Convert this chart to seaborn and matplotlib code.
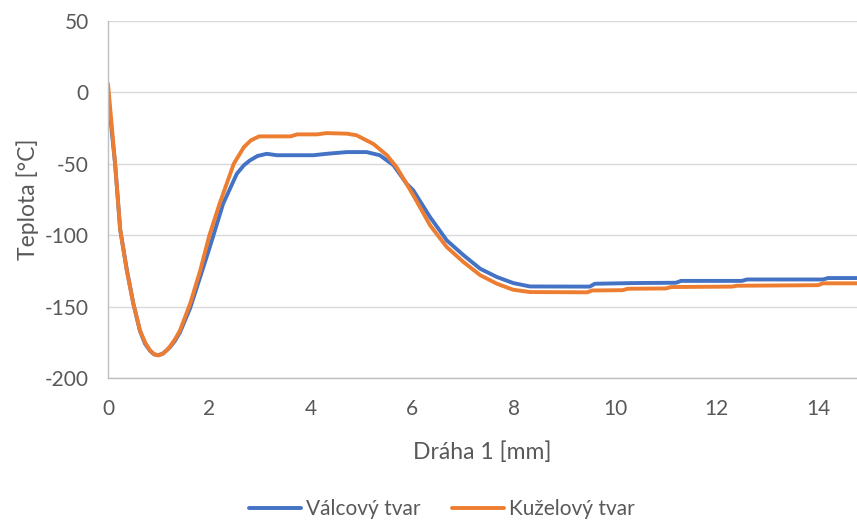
import pandas as pd
import seaborn as sns
import matplotlib.pyplot as plt

# values
valcovy_x = [0, 0.14, 0.24, 0.37, 0.5, 0.63, 0.73, 0.83, 0.91, 0.99, 1.08, 1.16, 1.22, 1.32,
             1.42, 1.62, 1.82, 2.01, 2.27, 2.54, 2.68, 2.8, 2.95, 3.13, 3.33, 4.05, 4.31, 4.71,
             5.1, 5.36, 5.63, 5.89, 6.02, 6.35, 6.68, 7.01, 7.34, 7.67, 7.99, 8.32, 9.5, 9.6,
             10.4, 11.2, 11.3, 12.5, 12.6, 14.1, 14.2, 14.8]
valcovy_y = [-2, -50, -96, -124, -148, -167, -176, -181, -183.5, -184, -183, -180.5, -178.5,
             -174, -168, -151, -129, -108, -78, -57, -51, -47.6, -44.5, -43, -44, -44, -43,
             -41.8, -41.8, -44, -51, -64, -68.6, -87.3, -103.6, -114, -123.5, -129.3, -133.5,
             -135.9, -136, -134, -133.5, -133.3, -132, -132, -131, -131, -130, -130]

kuzelovy_x = [0, 0.14, 0.24, 0.37, 0.5, 0.63, 0.73, 0.83, 0.91, 0.99, 1.08, 1.16, 1.22, 1.32,
              1.42, 1.62, 1.82, 2.0, 2.2, 2.48, 2.68, 2.82, 2.98, 3.6, 3.73, 4.12, 4.31, 4.71,
              4.9, 5.23, 5.5, 5.69, 6.02, 6.35, 6.68, 7.01, 7.34, 7.67, 7.99, 8.32, 9.45, 9.55,
              10.15, 10.25, 11.0, 11.1, 12.3, 12.4, 14.0, 14.1, 14.8]
kuzelovy_y = [6, -50, -96, -124.6, -148, -166.7, -175, -180.7, -183.3, -184.2, -183, -180.5,
              -178, -173, -166.7, -148, -124.6, -100, -78, -50, -38.3, -33.5, -30.8, -30.8,
              -29.4, -29.4, -28.5, -28.9, -30, -36, -44, -52.3, -72, -93, -108.3, -118.8, -128,
              -134, -138.2, -139.8, -140, -138.7, -138.5, -137.5, -137.3, -136.3, -136, -135.4,
              -135, -133.7, -133.7]

series_names = ["Válcový tvar", "Kuželový tvar"]
colors = ["#4472C4", "#ED7D31"]
y_ticks = [-200, -150, -100, -50, 0, 50]
x_ticks = [0, 2, 4, 6, 8, 10, 12, 14]

df = pd.concat([
    pd.DataFrame({"x": valcovy_x, "y": valcovy_y, "tvar": series_names[0]}),
    pd.DataFrame({"x": kuzelovy_x, "y": kuzelovy_y, "tvar": series_names[1]}),
])

sns.set_style("white")
plt.rcParams["font.family"] = ["Lato", "DejaVu Sans"]
plt.rcParams["axes.unicode_minus"] = False
text_color = "#595959"

fig = plt.figure(figsize=(8.57, 5.24), dpi=100)
ax = fig.add_axes([108 / 857, 1 - 378 / 524, 1 - 108 / 857, (378 - 21) / 524])

sns.lineplot(data=df, x="x", y="y", hue="tvar", hue_order=series_names,
             palette=colors, estimator=None, sort=False, linewidth=2.8,
             legend=False, ax=ax)
for line in ax.get_lines():
    line.set_solid_joinstyle("round")
    line.set_solid_capstyle("round")

ax.set_xlim(0, 14.77)
ax.set_ylim(-200, 50)
ax.set_yticks(y_ticks)
ax.set_xticks(x_ticks)
ax.yaxis.grid(True, color="#D9D9D9", linewidth=1)
ax.set_axisbelow(True)
for side in ["top", "right"]:
    ax.spines[side].set_visible(False)
for side in ["left", "bottom"]:
    ax.spines[side].set_color("#BFBFBF")
    ax.spines[side].set_linewidth(1)
ax.tick_params(axis="both", length=0, labelsize=15, labelcolor=text_color)
ax.tick_params(axis="y", pad=14)
ax.tick_params(axis="x", pad=15)

ax.set_xlabel("Dráha 1 [mm]", fontsize=16.5, color=text_color, labelpad=16)
ax.set_ylabel("Teplota [°C]", fontsize=16.5, color=text_color, labelpad=4)

fig.legend(ax.get_lines()[:2], series_names, loc="center", ncol=2, frameon=False,
           bbox_to_anchor=(442 / 857, 1 - 509 / 524), fontsize=15,
           handlelength=2.5, handletextpad=0.25, columnspacing=1.5,
           labelcolor=text_color)

plt.savefig("out.png", dpi=100)
